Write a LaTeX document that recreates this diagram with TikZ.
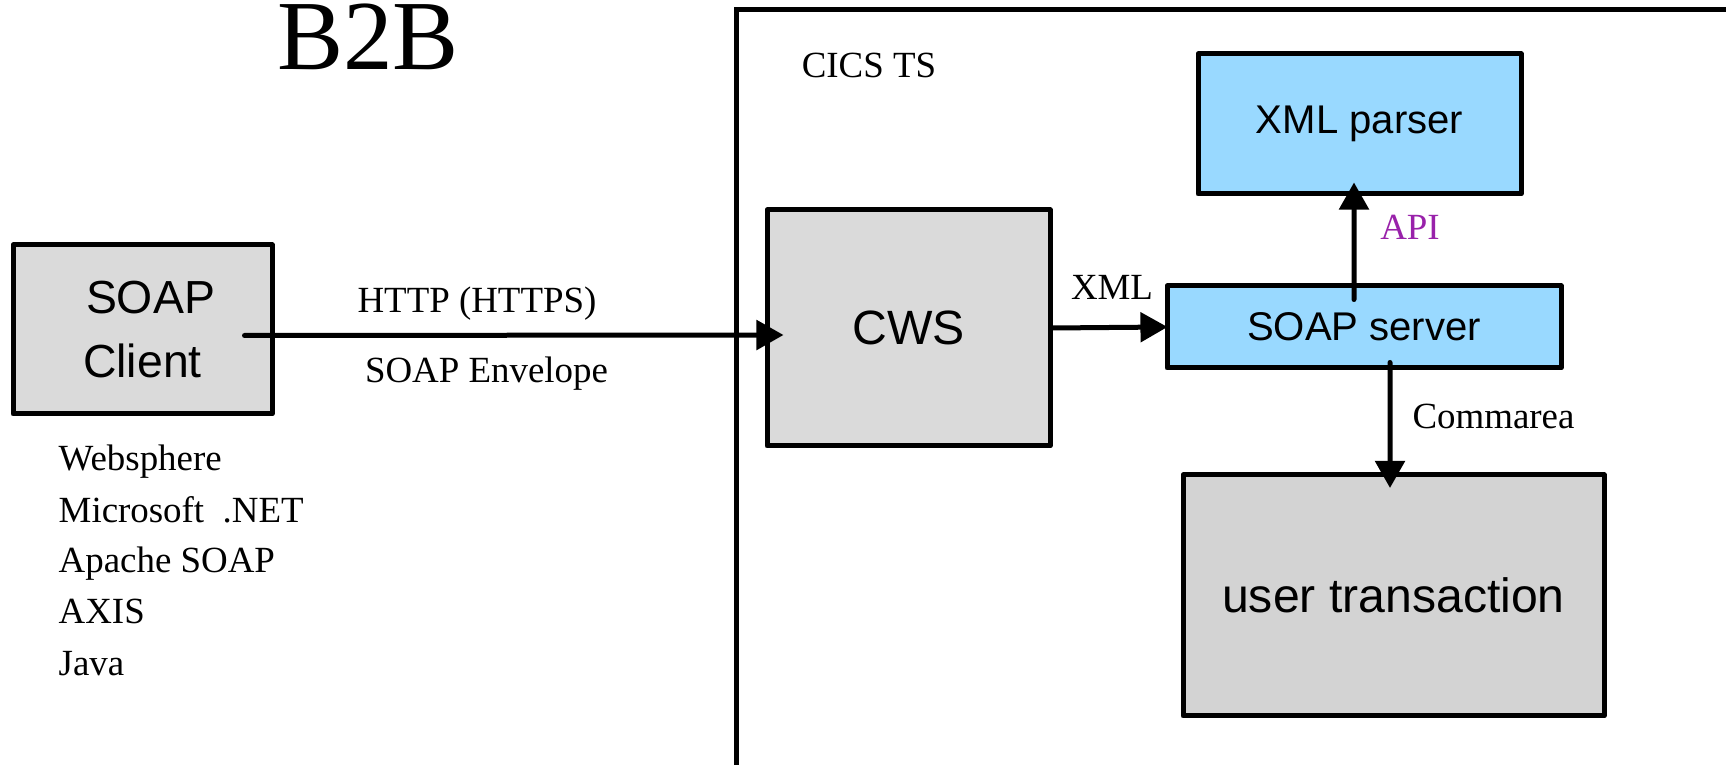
\documentclass[tikz,border=0pt]{standalone}
\usepackage{fontspec}
\setmainfont{Liberation Serif}
\newfontfamily\arialfont{Liberation Sans}
\usetikzlibrary{arrows.meta}
\definecolor{boxgray}{RGB}{218,218,218}
\definecolor{txgray}{RGB}{211,211,211}
\definecolor{boxblue}{RGB}{153,217,255}
\definecolor{apipurple}{RGB}{153,34,170}
\tikzset{
	block/.style={draw, line width=0.5mm, line join=round, inner sep=0pt, align=center, font=\arialfont\fontsize{13.2}{18.2}\selectfont},
	grayblock/.style={block, fill=boxgray},
	bigblock/.style={grayblock, font=\arialfont\fontsize{13.7}{16}\selectfont},
	blueblock/.style={block, fill=boxblue, font=\arialfont\fontsize{11.4}{14}\selectfont},
	flow/.style={line width=0.5mm, line cap=round, -{Triangle[length=7.7pt, width=8.3pt]}},
	serif/.style={inner sep=0pt, anchor=base, font=\fontsize{10.5}{12.6}\selectfont}
}

\begin{document}
\begin{tikzpicture}
		%%%%% START %%%%%
		\useasboundingbox (0, 0) rectangle (17.26, 7.65);
		
		\node[serif, font=\fontsize{28.2}{30}\selectfont] (title) at (3.68, 6.95) {B2B};
		
		\draw[line width=0.5mm] (7.36, 0) |- (17.26, 7.55);
		\node[serif] (cics) at (8.69, 6.87) {CICS TS};
		
		\node[grayblock, minimum width=2.59cm, minimum height=1.69cm] (client) at (1.425, 4.355) {\hspace*{0.16cm}SOAP\\Client};
		\node[bigblock, minimum width=2.83cm, minimum height=2.36cm] (cws) at (9.085, 4.37) {CWS};
		\node[blueblock, minimum width=3.94cm, minimum height=0.82cm] (soapsrv) at (13.64, 4.38) {SOAP server};
		\node[blueblock, minimum width=3.23cm, minimum height=1.40cm] (parser) at (13.595, 6.41) {XML parser};
		\node[bigblock, fill=txgray, minimum width=4.21cm, minimum height=2.41cm] (usertx) at (13.935, 1.695) {user transaction};
		
		\draw[flow] ([xshift=-3mm, yshift=-0.6mm]client.east) -- ([xshift=1.9mm, yshift=-0.7mm]cws.west);
		\node[serif] (http) at (4.77, 4.525) {HTTP (HTTPS)};
		\node[serif] (envelope) at (4.865, 3.82) {SOAP Envelope};
		
		\draw[flow] (cws.east) -- ([xshift=0.3mm]soapsrv.west);
		\node[serif] (xml) at (11.12, 4.65) {XML};
		
		\draw[flow] ([xshift=-1mm, yshift=-1.6mm]soapsrv.north) -- ([xshift=-0.55mm, yshift=1.4mm]parser.south);
		\node[serif, text=apipurple] (api) at (14.10, 5.25) {API};
		
		\draw[flow] ([xshift=2.6mm, yshift=0.8mm]soapsrv.south) -- ([xshift=-0.35mm, yshift=-1.55mm]usertx.north);
		\node[serif] (commarea) at (14.935, 3.36) {Commarea};
		
		\node[serif, anchor=base west] (websphere) at (0.58, 2.94) {Websphere};
		\node[serif, anchor=base west] (dotnet) at (0.58, 2.42) {Microsoft\ \ .NET};
		\node[serif, anchor=base west] (apache) at (0.58, 1.92) {Apache SOAP};
		\node[serif, anchor=base west] (axis) at (0.58, 1.41) {AXIS};
		\node[serif, anchor=base west] (java) at (0.58, 0.89) {Java};
		
		%%%%% END %%%%%
\end{tikzpicture}
\end{document}
